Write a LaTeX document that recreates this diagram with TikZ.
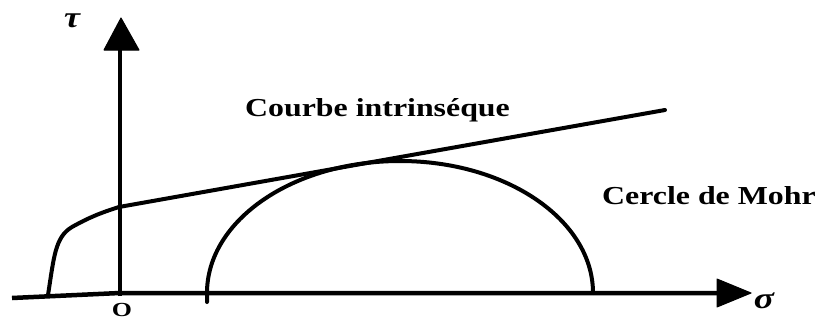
\documentclass[tikz,border=0pt]{standalone}
\usepackage{fontspec}
\setmainfont{Liberation Serif}
\begin{document}
\begin{tikzpicture}[x=1bp,y=1bp,
  curve/.style={line width=4bp, line cap=round, line join=round},
  axisline/.style={line width=4.5bp},
  tip/.style={fill=black, draw=black, line width=1bp, line join=round},
  lbl/.style={inner sep=0pt, font=\bfseries\fontsize{26}{30}\selectfont},
  greek/.style={inner sep=0pt, font=\bfseries\itshape\fontsize{30}{34}\selectfont}]
\useasboundingbox (0,0) rectangle (822,322);
\fill[white] (0,0) rectangle (822,322);
% coordinates
\coordinate (O) at (120,29);
\coordinate (xstart) at (12,24);
\coordinate (xend) at (718,29);
\coordinate (ybot) at (120,26);
\coordinate (yend) at (120,273);
\coordinate (Cl) at (207,29);
\coordinate (Iend) at (665,212);
\coordinate (Icut) at (119,115);
% axes
\draw[axisline] (xstart) -- (O) -- (xend);
\draw[axisline] (ybot) -- (yend);
\filldraw[tip] (717,43) -- (751,29) -- (717,15) -- cycle;
\filldraw[tip] (104,272) -- (121,304) -- (139,272) -- cycle;
% intrinsic curve
\draw[curve] (48,27) .. controls (54,65) and (55,85) .. (72,95)
  .. controls (88,104) and (100,109) .. (Icut) -- (Iend);
% Mohr half circle
\draw[curve] (207,20) -- (Cl) arc[start angle=180, end angle=0, x radius=193, y radius=132];
% labels
\node[lbl, anchor=base west] (lc) at (245,206) {\scalebox{1.23}[1]{Courbe intrinséque}};
\node[lbl, anchor=base west] (lm) at (602,118) {\scalebox{1.23}[1]{Cercle de Mohr}};
\node[inner sep=0pt, font=\bfseries\fontsize{20}{24}\selectfont, anchor=base] (lo) at (122,6) {\scalebox{1.3}[1]{O}};
\node[greek] (tau) at (72,301) {\scalebox{1.2}[1]{τ}};
\node[greek] (sig) at (764,21) {\scalebox{1.25}[1]{σ}};
\end{tikzpicture}
\end{document}
